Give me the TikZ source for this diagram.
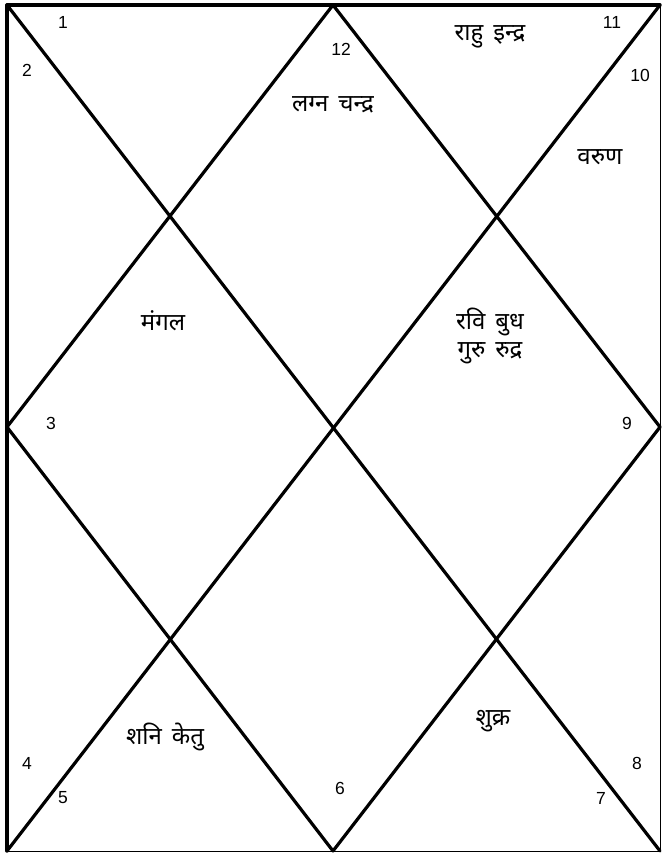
\documentclass[tikz,border=0pt]{standalone}
\usepackage{fontspec}
\setmainfont{Liberation Sans}
\newfontfamily\deva[Script=Devanagari,WordSpace=1.6]{Noto Sans}
\begin{document}
\begin{tikzpicture}[x=1bp,y=-1bp,
  thick line/.style={line width=3.2bp,line cap=round,line join=round},
  thin line/.style={line width=1bp},
  num/.style={font=\fontsize{17.5bp}{19bp}\selectfont,inner sep=0pt},
  planet/.style={font=\deva\fontsize{24bp}{28bp}\selectfont,inner sep=0pt,align=center}]
\useasboundingbox (0,0) rectangle (662,853);
\coordinate (TL) at (7,5);
\coordinate (TR) at (660,5);
\coordinate (BL) at (7,851);
\coordinate (BR) at (660,851);
\coordinate (TM) at (333,5);
\coordinate (RM) at (660,427);
\coordinate (BM) at (333,851);
\coordinate (LM) at (7,427);
\draw[thin line] (TR) -- (BR) -- (BL);
\draw[thick line] (BL) -- (TL) -- (TR);
\draw[thick line] (TL) -- (BR);
\draw[thick line] (TR) -- (BL);
\draw[thick line] (TM) -- (RM) -- (BM) -- (LM) -- cycle;
\node[num] (n1) at (63,22) {1};
\node[num] (n2) at (27,70) {2};
\node[num] (n12) at (341,49) {12};
\node[num] (n11) at (612,22) {11};
\node[num] (n10) at (640,75) {10};
\node[num] (n3) at (51,423) {3};
\node[num] (n9) at (627,423) {9};
\node[num] (n4) at (27,763) {4};
\node[num] (n5) at (63,798) {5};
\node[num] (n6) at (340,788) {6};
\node[num] (n7) at (601,798) {7};
\node[num] (n8) at (637,763) {8};
\node[planet] (p1) at (333,105) {लग्न चन्द्र};
\node[planet] (p11) at (490,37) {राहु इन्द्र};
\node[planet] (p10) at (600,157) {वरुण};
\node[planet] (p2) at (163,321) {मंगल};
\node[planet] (p9) at (490,336) {रवि बुध\\गुरु रुद्र};
\node[planet] (p4) at (165,737) {शनि केतु};
\node[planet] (p7) at (493,721) {शुक्र};
\end{tikzpicture}
\end{document}
